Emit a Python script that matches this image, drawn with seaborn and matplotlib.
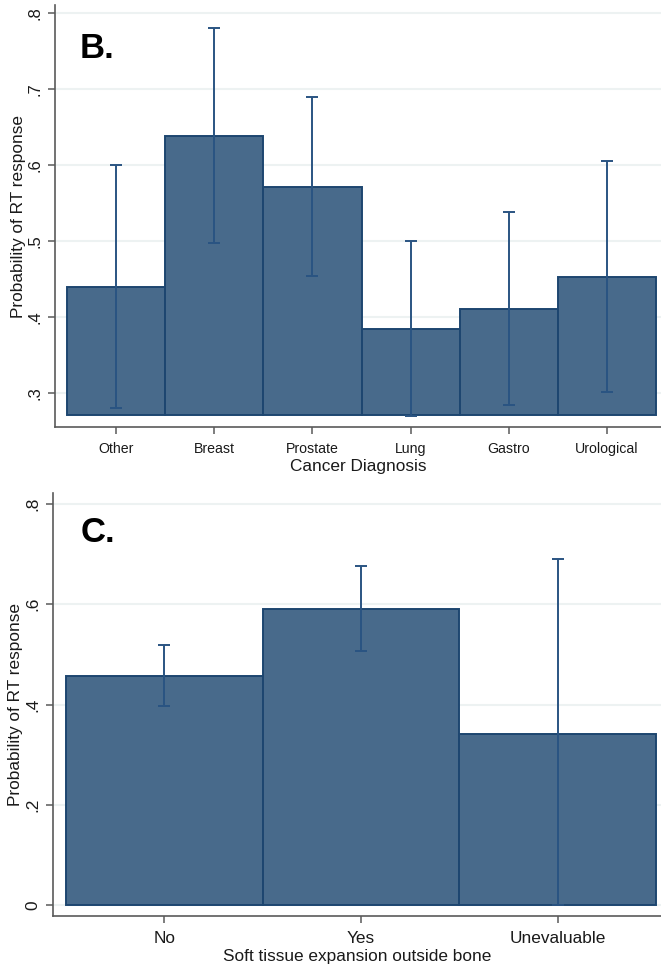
import matplotlib
matplotlib.use("Agg")
import matplotlib.pyplot as plt
import seaborn as sns
import pandas as pd
import numpy as np

# ---- data ----
diag_cats = ["Other", "Breast", "Prostate", "Lung", "Gastro", "Urological"]
diag_prob = [0.439, 0.638, 0.571, 0.384, 0.410, 0.452]
diag_lo = [0.280, 0.497, 0.454, 0.270, 0.284, 0.301]
diag_hi = [0.600, 0.780, 0.689, 0.500, 0.538, 0.605]
diag_ticks = [0.3, 0.4, 0.5, 0.6, 0.7, 0.8]
diag_ticklabels = [".3", ".4", ".5", ".6", ".7", ".8"]

soft_cats = ["No", "Yes", "Unevaluable"]
soft_prob = [0.456, 0.590, 0.342]
soft_lo = [0.398, 0.506, 0.0]
soft_hi = [0.518, 0.676, 0.690]
soft_ticks = [0.0, 0.2, 0.4, 0.6, 0.8]
soft_ticklabels = ["0", ".2", ".4", ".6", ".8"]

BAR = "#486a8b"
EDGE = "#1d4670"
ERR = "#2a5482"
GRID = "#edf2f2"
AXC = "#5a5a5a"

sns.set_theme(style="white")
plt.rcParams["font.family"] = ["Liberation Sans", "DejaVu Sans"]

fig = plt.figure(figsize=(6.61, 9.69), dpi=100)
ax1 = fig.add_axes([55 / 661, 1 - 427 / 969, 1 - 55 / 661, (427 - 5) / 969])
ax2 = fig.add_axes([53 / 661, 1 - 916 / 969, 1 - 53 / 661, (916 - 493) / 969])


def panel(ax, cats, prob, lo, hi, base, ylim, xlim, ticks, ticklabels,
          xlabel, letter, letter_pos, xtick_fs, ytick_fs, cap, ylabpad):
    df = pd.DataFrame({"cat": cats, "p": prob})
    sns.barplot(data=df, x="cat", y="p", order=cats, width=1.0, color=BAR,
                saturation=1, edgecolor=EDGE, linewidth=1.4, errorbar=None,
                ax=ax, zorder=2)
    for patch, v in zip(ax.patches, prob):
        patch.set_y(base)
        patch.set_height(v - base)
    xs = np.arange(len(cats))
    p = np.array(prob)
    ax.errorbar(xs, p, yerr=[p - np.array(lo), np.array(hi) - p], fmt="none",
                ecolor=ERR, elinewidth=1.4, capsize=cap, capthick=1.4,
                zorder=3)
    ax.set_ylim(*ylim)
    ax.set_xlim(*xlim)
    ax.set_yticks(ticks)
    ax.set_yticklabels(ticklabels, rotation=90, va="center",
                       fontsize=ytick_fs)
    ax.tick_params(axis="x", labelsize=xtick_fs, length=5, width=1.1,
                   color=AXC, pad=6, bottom=True)
    ax.tick_params(axis="y", length=5, width=1.1, color=AXC, pad=4,
                   left=True)
    for t in ax.get_xticklabels() + ax.get_yticklabels():
        t.set_color("#1a1a1a")
    ax.grid(axis="y", color=GRID, linewidth=1.5, zorder=0)
    ax.set_axisbelow(True)
    for s in ["top", "right"]:
        ax.spines[s].set_visible(False)
    for s in ["left", "bottom"]:
        ax.spines[s].set_color(AXC)
        ax.spines[s].set_linewidth(1.2)
    ax.set_xlabel(xlabel, fontsize=12.4, color="#1a1a1a", labelpad=2)
    ax.set_ylabel("Probability of RT response", fontsize=12.4,
                  color="#1a1a1a", labelpad=ylabpad)
    ax.text(letter_pos[0], letter_pos[1], letter, transform=ax.transAxes,
            fontsize=25, fontweight="bold", color="black", ha="left",
            va="baseline")


panel(ax1, diag_cats, diag_prob, diag_lo, diag_hi, base=0.271,
      ylim=(0.255, 0.8105), xlim=(-0.622, 5.55), ticks=diag_ticks,
      ticklabels=diag_ticklabels, xlabel="Cancer Diagnosis", letter="B.",
      letter_pos=(0.041, 0.874), xtick_fs=10.2, ytick_fs=12, cap=4.5,
      ylabpad=1)
panel(ax2, soft_cats, soft_prob, soft_lo, soft_hi, base=0.0,
      ylim=(-0.022, 0.822), xlim=(-0.566, 2.525), ticks=soft_ticks,
      ticklabels=soft_ticklabels,
      xlabel="Soft tissue expansion outside bone", letter="C.",
      letter_pos=(0.045, 0.884), xtick_fs=12.4, ytick_fs=12.4, cap=4.5,
      ylabpad=2)

fig.savefig("out.png", dpi=100)
